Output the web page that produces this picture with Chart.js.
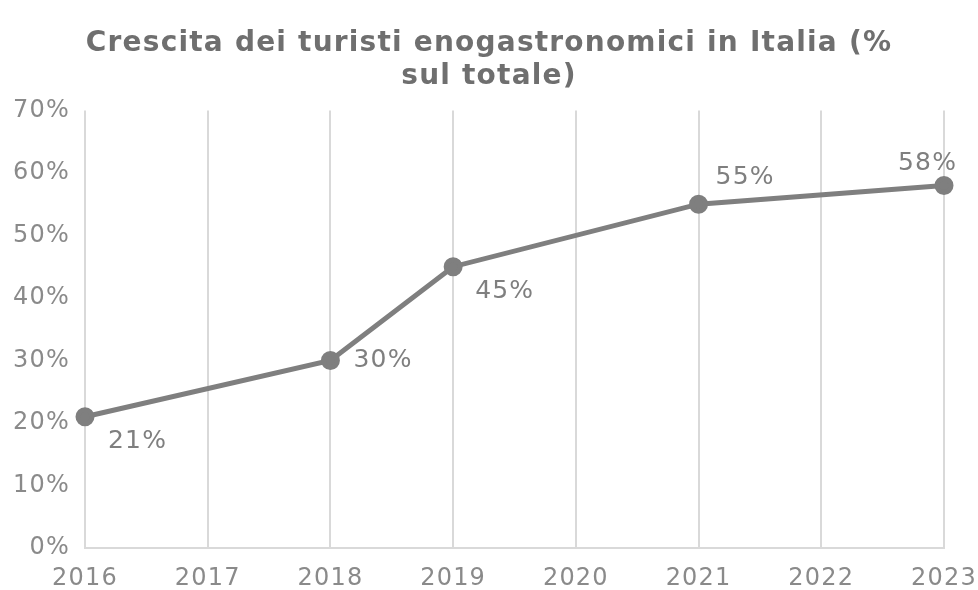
<!DOCTYPE html>
<html>
<head>
<meta charset="utf-8">
<script src="https://cdn.jsdelivr.net/npm/chart.js@4"></script>
<style>
  html, body { margin: 0; padding: 0; background: #fff; }
  #wrap { width: 978px; height: 590px; }
</style>
</head>
<body>
<div id="wrap"><canvas id="chart" width="978" height="590"></canvas></div>
<script>
// dati del grafico
const anni = ["2016", "2017", "2018", "2019", "2020", "2021", "2022", "2023"];
const quota = [21, null, 30, 45, null, 55, null, 58];
const yTicks = [0, 10, 20, 30, 40, 50, 60, 70];
const titolo = ["Crescita dei turisti enogastronomici in Italia (%", "sul totale)"];

// posizione delle etichette rispetto al punto (dx, dy)
const offsetEtichette = [[23, 25], null, [23, 0], [22, 25], null, [17, -27], null, [-46, -22]];

const grigio = "#7f7f7f";
const testo = "#8a8a8a";
const fontBase = '"DejaVu Sans", Verdana, sans-serif';

// spaziatura per avvicinarsi alla larghezza del Verdana
const spaziatura = {
  id: 'spaziatura',
  beforeDraw(chart) { chart.ctx.letterSpacing = '1.2px'; },
  afterDraw(chart) { chart.ctx.letterSpacing = '0px'; }
};

const etichettePlugin = {
  id: 'etichette',
  afterDatasetsDraw(chart) {
    const ctx = chart.ctx;
    const meta = chart.getDatasetMeta(0);
    ctx.save();
    ctx.font = '25px ' + fontBase;
    ctx.fillStyle = grigio;
    ctx.textAlign = 'left';
    ctx.textBaseline = 'middle';
    meta.data.forEach((pt, i) => {
      const v = quota[i];
      if (v === null) return;
      const off = offsetEtichette[i];
      ctx.fillText(v + '%', pt.x + off[0], pt.y + off[1]);
    });
    ctx.restore();
  }
};

new Chart(document.getElementById('chart').getContext('2d'), {
  type: 'line',
  data: {
    labels: anni,
    datasets: [{
      data: quota,
      borderColor: grigio,
      backgroundColor: grigio,
      borderWidth: 5,
      pointRadius: 7,
      pointHoverRadius: 7,
      spanGaps: true,
      tension: 0
    }]
  },
  options: {
    responsive: false,
    animation: false,
    layout: { padding: 0 },
    plugins: {
      legend: { display: false },
      tooltip: { enabled: false },
      title: {
        display: true,
        text: titolo,
        color: "#6f6f6f",
        font: { family: fontBase, size: 28, weight: 'bold', lineHeight: 1.15 },
        padding: { top: 28, bottom: 18 }
      }
    },
    scales: {
      x: {
        afterFit(scale) { scale.height = 42; scale.paddingRight = 34; },
        grid: { display: true, color: "#d9d9d9", lineWidth: 2, drawTicks: false },
        border: { display: true, color: "#d9d9d9", width: 2 },
        ticks: {
          color: testo,
          padding: 16,
          maxRotation: 0,
          font: { family: fontBase, size: 24 }
        }
      },
      y: {
        min: 0,
        max: 70,
        afterFit(scale) { scale.width = 85; },
        afterBuildTicks(scale) { scale.ticks = yTicks.map(v => ({ value: v })); },
        grid: { display: false, drawTicks: false },
        border: { display: false },
        ticks: {
          color: testo,
          padding: 15,
          font: { family: fontBase, size: 24 },
          callback: v => v + '%'
        }
      }
    }
  },
  plugins: [spaziatura, etichettePlugin]
});
</script>
</body>
</html>
